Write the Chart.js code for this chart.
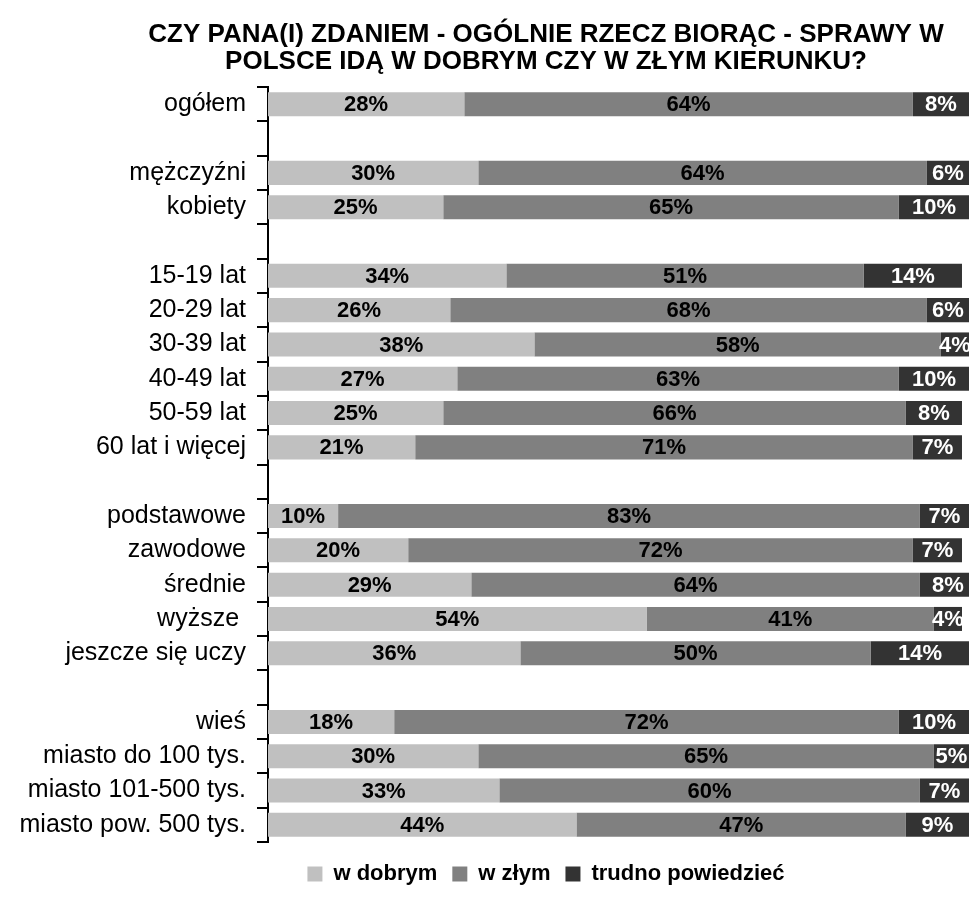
<!DOCTYPE html>
<html>
<head>
<meta charset="utf-8">
<script src="https://cdn.jsdelivr.net/npm/chart.js@4"></script>
<style>
  body { margin: 0; background: #fff; }
  #wrap { width: 972px; height: 911px; position: relative; }
</style>
</head>
<body>
<div id="wrap"><canvas id="chart"></canvas></div>
<script>
const titleLines = [
  'CZY PANA(I) ZDANIEM - OGÓLNIE RZECZ BIORĄC - SPRAWY W',
  'POLSCE IDĄ W DOBRYM CZY W ZŁYM KIERUNKU?'
];
const categories = [
  'ogółem', '',
  'mężczyźni', 'kobiety', '',
  '15-19 lat', '20-29 lat', '30-39 lat', '40-49 lat', '50-59 lat', '60 lat i więcej', '',
  'podstawowe', 'zawodowe', 'średnie', 'wyższe ', 'jeszcze się uczy', '',
  'wieś', 'miasto do 100 tys.', 'miasto 101-500 tys.', 'miasto pow. 500 tys.'
];
const seriesNames = ['w dobrym', 'w złym', 'trudno powiedzieć'];
const wDobrym = [28, null, 30, 25, null, 34, 26, 38, 27, 25, 21, null, 10, 20, 29, 54, 36, null, 18, 30, 33, 44];
const wZlym   = [64, null, 64, 65, null, 51, 68, 58, 63, 66, 71, null, 83, 72, 64, 41, 50, null, 72, 65, 60, 47];
const trudno  = [8, null, 6, 10, null, 14, 6, 4, 10, 8, 7, null, 7, 7, 8, 4, 14, null, 10, 5, 7, 9];

const colors = ['#c0c0c0', '#808080', '#333333'];
const labelColors = ['#000000', '#000000', '#ffffff'];

Chart.defaults.font.family = '"Liberation Sans", Arial, sans-serif';
Chart.defaults.color = '#000';

// percent labels in the middle of each segment
const segmentLabels = {
  id: 'segmentLabels',
  afterDatasetsDraw(chart) {
    const ctx = chart.ctx;
    ctx.save();
    ctx.font = 'bold 22px "Liberation Sans", Arial, sans-serif';
    ctx.textAlign = 'center';
    ctx.textBaseline = 'middle';
    chart.data.datasets.forEach((ds, i) => {
      const meta = chart.getDatasetMeta(i);
      meta.data.forEach((bar, j) => {
        const v = ds.data[j];
        if (v == null) return;
        ctx.fillStyle = labelColors[i];
        ctx.fillText(v + '%', (bar.x + bar.base) / 2, bar.y + 1);
      });
    });
    ctx.restore();
  }
};

// the y labels are wider than the axis box, so let them run to the left edge
const unclipLabels = {
  id: 'unclipLabels',
  afterLayout(chart) {
    chart.scales.y.left = 0;
  }
};

const ctx = document.getElementById('chart').getContext('2d');
new Chart(ctx, {
  type: 'bar',
  data: {
    labels: categories,
    datasets: [
      { label: seriesNames[0], data: wDobrym, backgroundColor: colors[0] },
      { label: seriesNames[1], data: wZlym, backgroundColor: colors[1] },
      { label: seriesNames[2], data: trudno, backgroundColor: colors[2] }
    ]
  },
  options: {
    indexAxis: 'y',
    responsive: true,
    maintainAspectRatio: false,
    animation: false,
    barPercentage: 0.7,
    categoryPercentage: 1.0,
    layout: { padding: { left: 123, right: 3, top: 0, bottom: 16 } },
    scales: {
      x: {
        stacked: true,
        min: 0,
        max: 100,
        grid: { display: false },
        border: { display: false },
        ticks: { display: false },
        afterFit: s => { s.height = 6; }
      },
      y: {
        stacked: true,
        grid: { drawOnChartArea: false, drawTicks: true, tickLength: 11, color: '#000', lineWidth: 2, offset: true },
        border: { display: true, color: '#000', width: 2 },
        ticks: { color: '#000', font: { size: 25 }, padding: 11, autoSkip: false },
        afterFit: s => { s.width = 145; }
      }
    },
    plugins: {
      title: {
        display: true,
        text: titleLines,
        color: '#000',
        font: { size: 26, weight: 'bold', lineHeight: 1.04 },
        padding: { top: 21, bottom: 12 }
      },
      legend: {
        position: 'bottom',
        labels: {
          boxWidth: 15,
          boxHeight: 15,
          padding: 15,
          color: '#000',
          font: { size: 22, weight: 'bold' }
        }
      },
      tooltip: { enabled: false }
    }
  },
  plugins: [segmentLabels, unclipLabels]
});
</script>
</body>
</html>
